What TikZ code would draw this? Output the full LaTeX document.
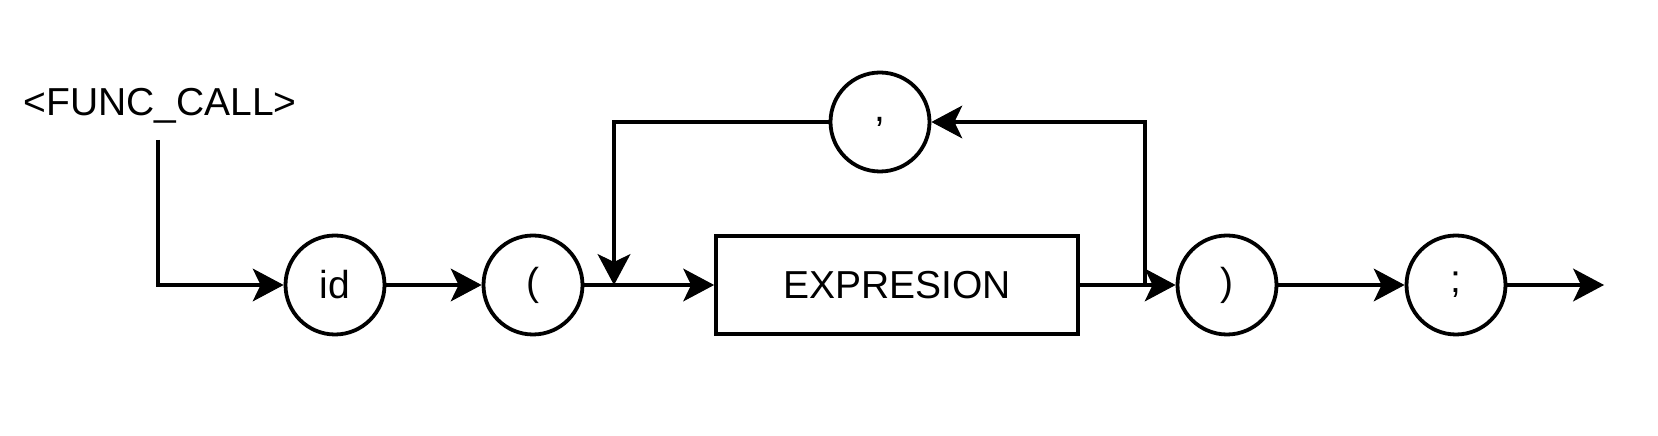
\documentclass[tikz,border=0pt]{standalone}
\usepackage{fontspec}
\setmainfont{Liberation Sans}
\usetikzlibrary{arrows.meta}
\begin{document}
\begin{tikzpicture}[x=1pt,y=1pt,
  line width=3.8pt,
  tok/.style={circle,draw,minimum size=99pt,inner sep=0pt,font=\fontsize{39}{46}\selectfont},
  nonterm/.style={rectangle,draw,minimum width=362pt,minimum height=98pt,inner sep=0pt,font=\fontsize{39}{46}\selectfont},
  arr/.style={-{Stealth[length=31pt,width=33pt,inset=8pt,line width=1pt]}},
  lbl/.style={inner sep=0pt,font=\fontsize{39}{46}\selectfont}]
\useasboundingbox (0,0) rectangle (1658,436);
\node[lbl] (title) at (160,330) {<FUNC\_CALL>};
\coordinate (start) at (158,296);
\coordinate (corner) at (158,151);
\node[tok] (id) at (335,151) {id};
\node[tok] (lp) at (533,151) {(};
\node[nonterm] (expr) at (897,151) {EXPRESION};
\node[tok] (rp) at (1227,151) {)};
\node[tok] (semi) at (1456,151) {;};
\node[tok] (comma) at (880,314) {,};
\coordinate (end) at (1604,151);
\coordinate (jin) at (614,151);
\coordinate (jout) at (1145,151);
\draw[arr] (start) -- (corner) -- (id);
\draw[arr] (id) -- (lp);
\draw[arr] (lp) -- (expr);
\draw[arr] (expr) -- (rp);
\draw[arr] (rp) -- (semi);
\draw[arr] (semi) -- (end);
\draw[arr] (jout) |- (comma);
\draw[arr] (comma) -| (jin);
\end{tikzpicture}
\end{document}
